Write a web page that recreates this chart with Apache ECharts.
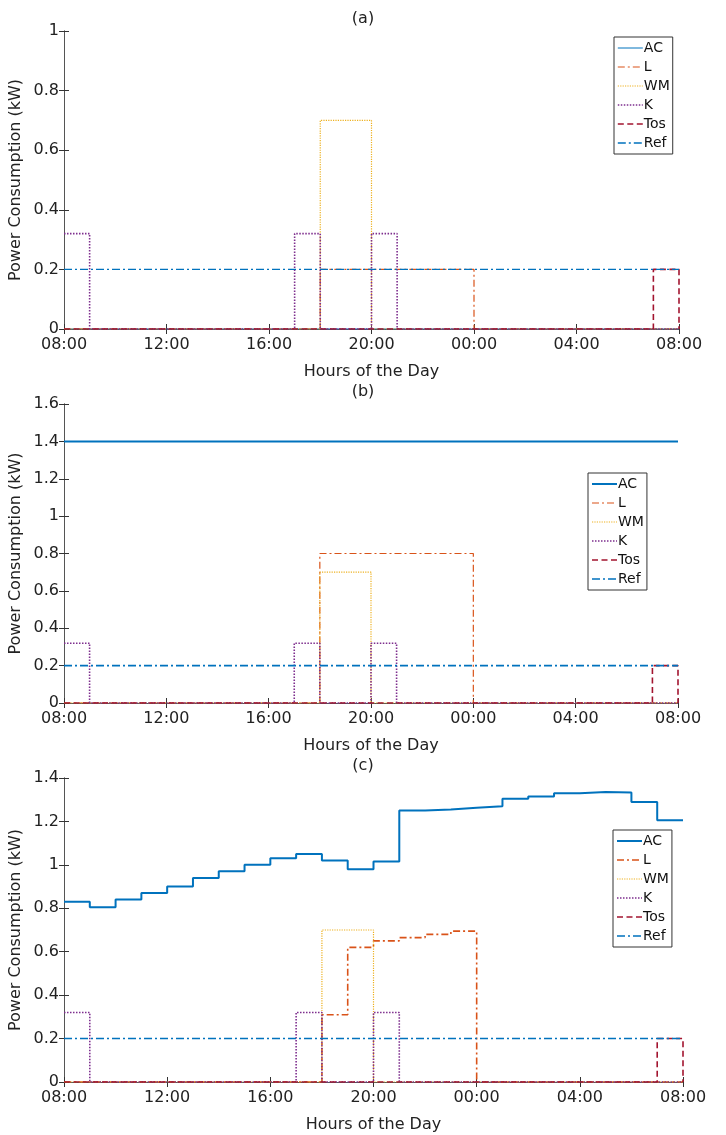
<!DOCTYPE html>
<html><head><meta charset="utf-8">
<script src="https://cdn.jsdelivr.net/npm/echarts@6/dist/echarts.min.js"></script>
<style>html,body{margin:0;padding:0;background:#fff}#c{width:726px;height:1135px}</style>
</head><body><div id="c"></div><script>
// ---- data ----
const hours = [0,1,2,3,4,5,6,7,8,9,10,11,12,13,14,15,16,17,18,19,20,21,22,23,24];
const xTickLabels = ['08:00','12:00','16:00','20:00','00:00','04:00','08:00'];
const seriesNames = ['AC','L','WM','K','Tos','Ref'];
const panelTitles = ['(a)','(b)','(c)'];

const a_AC  = [0,0,0,0,0,0,0,0,0,0,0,0,0,0,0,0,0,0,0,0,0,0,0,0,0];
const a_L   = [0,0,0,0,0,0,0,0,0,0,0.2,0.2,0.2,0.2,0.2,0.2,0,0,0,0,0,0,0,0,0];
const a_WM  = [0,0,0,0,0,0,0,0,0,0,0.7,0.7,0,0,0,0,0,0,0,0,0,0,0,0,0];
const a_K   = [0.32,0,0,0,0,0,0,0,0,0.32,0,0,0.32,0,0,0,0,0,0,0,0,0,0,0,0];
const a_Tos = [0,0,0,0,0,0,0,0,0,0,0,0,0,0,0,0,0,0,0,0,0,0,0,0.2,0];
const a_Ref = [0.2,0.2,0.2,0.2,0.2,0.2,0.2,0.2,0.2,0.2,0.2,0.2,0.2,0.2,0.2,0.2,0.2,0.2,0.2,0.2,0.2,0.2,0.2,0.2,0.2];

const b_AC  = [1.4,1.4,1.4,1.4,1.4,1.4,1.4,1.4,1.4,1.4,1.4,1.4,1.4,1.4,1.4,1.4,1.4,1.4,1.4,1.4,1.4,1.4,1.4,1.4,1.4];
const b_L   = [0,0,0,0,0,0,0,0,0,0,0.8,0.8,0.8,0.8,0.8,0.8,0,0,0,0,0,0,0,0,0];
const b_WM  = [0,0,0,0,0,0,0,0,0,0,0.7,0.7,0,0,0,0,0,0,0,0,0,0,0,0,0];
const b_K   = [0.32,0,0,0,0,0,0,0,0,0.32,0,0,0.32,0,0,0,0,0,0,0,0,0,0,0,0];
const b_Tos = [0,0,0,0,0,0,0,0,0,0,0,0,0,0,0,0,0,0,0,0,0,0,0,0.2,0];
const b_Ref = [0.2,0.2,0.2,0.2,0.2,0.2,0.2,0.2,0.2,0.2,0.2,0.2,0.2,0.2,0.2,0.2,0.2,0.2,0.2,0.2,0.2,0.2,0.2,0.2,0.2];

const c_AC  = [0.83,0.805,0.84,0.87,0.90,0.94,0.97,1.00,1.03,1.05,1.02,0.98,1.015,1.25,1.255,1.263,1.27,1.305,1.315,1.33,1.335,1.333,1.29,1.205,1.205];
const c_L   = [0,0,0,0,0,0,0,0,0,0,0.31,0.62,0.65,0.665,0.68,0.695,0,0,0,0,0,0,0,0,0];
const c_WM  = [0,0,0,0,0,0,0,0,0,0,0.7,0.7,0,0,0,0,0,0,0,0,0,0,0,0,0];
const c_K   = [0.32,0,0,0,0,0,0,0,0,0.32,0,0,0.32,0,0,0,0,0,0,0,0,0,0,0,0];
const c_Tos = [0,0,0,0,0,0,0,0,0,0,0,0,0,0,0,0,0,0,0,0,0,0,0,0.2,0];
const c_Ref = [0.2,0.2,0.2,0.2,0.2,0.2,0.2,0.2,0.2,0.2,0.2,0.2,0.2,0.2,0.2,0.2,0.2,0.2,0.2,0.2,0.2,0.2,0.2,0.2,0.2];

const yMax = [1, 1.6, 1.4];

// ---- styles / layout ----
const FONT = 'DejaVu Sans';
const colors = {AC:'#0072BD', L:'#D95319', WM:'#EDB120', K:'#7E2F8E', Tos:'#A2142F', Ref:'#0072BD'};
const dash = {AC:'solid', L:[7,3,2,3], WM:[1.2,1.2], K:[1.5,1.5], Tos:[6,3.5], Ref:[8,3,2,3]};
const widths = [
  {AC:1, L:1.2, WM:1.2, K:1.6, Tos:1.6, Ref:1.3},
  {AC:2, L:1.2, WM:1.2, K:1.6, Tos:1.6, Ref:1.6},
  {AC:2, L:1.6, WM:1.2, K:1.6, Tos:1.6, Ref:1.6}
];
const grids = [
  {left:63, right:47, top:31, height:298},
  {left:63, right:48, top:404, height:299},
  {left:63, right:43, top:778, height:304}
];
const legendPos = [
  {left:614, top:37},
  {left:588, top:473},
  {left:613, top:830}
];
const panelData = [
  [a_AC,a_L,a_WM,a_K,a_Tos,a_Ref],
  [b_AC,b_L,b_WM,b_K,b_Tos,b_Ref],
  [c_AC,c_L,c_WM,c_K,c_Tos,c_Ref]
];

const axisCol = '#555';
const option = {
  animation:false,
  backgroundColor:'#fff',
  title:[], grid:[], xAxis:[], yAxis:[], legend:[], series:[]
};

for (let p=0;p<3;p++){
  const g = grids[p];
  option.grid.push({left:g.left, right:g.right, top:g.top, height:g.height});
  option.title.push({text:panelTitles[p], left:'center', top:g.top-25,
    textStyle:{fontFamily:FONT,fontSize:16,fontWeight:'normal',color:'#222'}});
  option.xAxis.push({type:'value', gridIndex:p, min:0, max:24, interval:4,
    name:'Hours of the Day', nameLocation:'middle', nameGap:35, nameMoveOverlap:false,
    nameTextStyle:{fontFamily:FONT,fontSize:16,color:'#222'},
    axisLine:{lineStyle:{color:axisCol,width:1}},
    axisTick:{inside:true,length:5,lineStyle:{color:'#333'}},
    axisLabel:{fontFamily:FONT,fontSize:16,color:'#222',margin:8,
      formatter:(v)=>xTickLabels[Math.round(v/4)]},
    splitLine:{show:false}});
  option.xAxis.push({type:'value', gridIndex:p, min:0, max:24, interval:4, position:'top',
    axisLine:{lineStyle:{color:axisCol,width:1}},
    axisTick:{inside:true,length:5,lineStyle:{color:'#333'}},
    axisLabel:{show:false}, splitLine:{show:false}});
  option.yAxis.push({type:'value', gridIndex:p, min:0, max:yMax[p], interval:0.2,
    name:'Power Consumption (kW)', nameLocation:'middle', nameGap:40, nameMoveOverlap:false,
    nameTextStyle:{fontFamily:FONT,fontSize:16,color:'#222'},
    axisLine:{show:true,lineStyle:{color:axisCol,width:1}},
    axisTick:{show:true,inside:true,length:5,lineStyle:{color:'#333'}},
    axisLabel:{fontFamily:FONT,fontSize:16,color:'#222',margin:5,
      formatter:(v)=>String(Math.round(v*10)/10)},
    splitLine:{show:false}});
  option.yAxis.push({type:'value', gridIndex:p, min:0, max:yMax[p], interval:0.2, position:'right',
    axisLine:{show:true,lineStyle:{color:axisCol,width:1}},
    axisTick:{show:true,inside:true,length:5,lineStyle:{color:'#333'}},
    axisLabel:{show:false}, splitLine:{show:false}});

  seriesNames.forEach((n,i)=>{
    option.series.push({
      name:n, type:'line', step:'end', xAxisIndex:p*2, yAxisIndex:p*2,
      symbol:'none', z:2+i,
      data: hours.map((h,k)=>[h, panelData[p][i][k]]),
      lineStyle:{color:colors[n], width:widths[p][n], type:dash[n]},
      itemStyle:{color:colors[n]}
    });
  });

  option.legend.push({
    orient:'vertical', left:legendPos[p].left, top:legendPos[p].top,
    itemWidth:25, itemHeight:10, itemGap:5,
    padding:[4,3,4,3],
    borderColor:'#333', borderWidth:1, backgroundColor:'#fff',
    textStyle:{fontFamily:FONT,fontSize:14,color:'#111',padding:[0,0,0,-4]},
    data: seriesNames.map(n=>({name:n,
      itemStyle:{opacity:0},
      lineStyle:{color:colors[n], width:widths[p][n], type:dash[n], opacity:1}}))
  });
}

const chart = echarts.init(document.getElementById('c'), null, {renderer:'canvas'});
chart.setOption(option);
</script></body></html>
